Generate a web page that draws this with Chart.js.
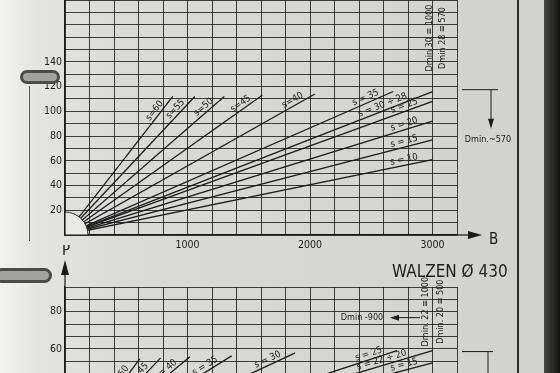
<!DOCTYPE html>
<html>
<head>
<meta charset="utf-8">
<script src="https://cdn.jsdelivr.net/npm/chart.js@4.4.1/dist/chart.umd.min.js"></script>
<style>
  html, body { margin: 0; padding: 0; }
  body {
    width: 560px; height: 373px; overflow: hidden; position: relative;
    background: linear-gradient(to right, #f3f3f1 0px, #e4e4e2 35px, #dadad8 120px, #d5d5d3 380px, #d1d1cf 540px);
  }
  #topChart { position: absolute; left: 0; top: 0; }
  #bottomChart { position: absolute; left: 0; top: 245px; }
  .title {
    position: absolute; left: 392px; top: 261px; white-space: nowrap;
    font: 17px 'DejaVu Sans Condensed', 'DejaVu Sans', sans-serif; color: #1c1c1c;
  }
  .edge { position: absolute; left: 517px; top: 0; width: 2px; height: 373px; background: #2c2c2c; }
  .dark { position: absolute; left: 544px; top: 0; width: 16px; height: 373px; background: linear-gradient(to right, #444442, #141414); }
  .fold { position: absolute; left: 29px; top: 86px; width: 1px; height: 155px; background: #5a5a5a; }
  .ring { position: absolute; border: 3px solid #4b4b49; border-radius: 8px; background: #a2a2a0; }
</style>
</head>
<body>
<div class="fold"></div>
<canvas id="topChart" width="560" height="260"></canvas>
<canvas id="bottomChart" width="560" height="245"></canvas>
<div class="title">WALZEN Ø 430</div>
<div class="edge"></div>
<div class="dark"></div>
<div class="ring" style="left:20px; top:70px; width:34px; height:8px;"></div>
<div class="ring" style="left:-6px; top:268px; width:52px; height:9px;"></div>
<script>
const FONT = "'DejaVu Sans Condensed', 'DejaVu Sans', sans-serif";
const INK = '#1b1b1b';
const GRID = 'rgba(20,20,20,0.8)';

// upper diagram
const bTicks = [1000, 2000, 3000];
const pTicks = [20, 40, 60, 80, 100, 120, 140];
const upperLabels = ['s=60', 's=55', 's=50', 's=45', 's=40', 's = 35', 's = 30 ÷ 28', 's = 25', 's = 20', 's = 15', 's = 10'];
const upperEndB = [880, 1060, 1300, 1610, 2040, 2680, 3000, 3000, 3000, 3000, 3000];
const upperEndP = [112, 112, 112, 113, 114, 116, 116, 108, 92, 77, 61];

// lower diagram (WALZEN Ø 430)
const lowerPTicks = [60, 80];
const lowerLabels = ['s = 50', 's = 45', 's = 40', 's = 35', 's = 30', 's = 25', 's = 22 ÷ 20', 's = 15'];
const lowerEndB = [610, 780, 1020, 1360, 1880, 2710, 3000, 3000];
const lowerEndP = [54.6, 55.1, 55.7, 56.2, 57.8, 59, 59, 52.4];

function fan(labels, endB, endP) {
  return labels.map((label, i) => ({
    label: label,
    data: [{ x: 0, y: 0 }, { x: endB[i], y: endP[i] }],
    borderColor: INK,
    borderWidth: 1.3,
    pointRadius: 0,
    tension: 0,
    fill: false
  }));
}

function tri(ctx, x1, y1, x2, y2, x3, y3) {
  ctx.beginPath(); ctx.moveTo(x1, y1); ctx.lineTo(x2, y2); ctx.lineTo(x3, y3); ctx.closePath(); ctx.fill();
}

function vtext(ctx, text, x, y) {
  ctx.save();
  ctx.translate(x, y);
  ctx.rotate(-Math.PI / 2);
  ctx.textAlign = 'center';
  ctx.textBaseline = 'middle';
  ctx.fillText(text, 0, 0);
  ctx.restore();
}

// white quarter circle at the origin + the "s = .." labels along each line
const lineLabels = {
  id: 'lineLabels',
  afterDatasetsDraw(chart) {
    const ctx = chart.ctx;
    const xs = chart.scales.x, ys = chart.scales.y;
    const ox = xs.getPixelForValue(0), oy = ys.getPixelForValue(0);
    const r = 23;
    ctx.save();
    ctx.beginPath(); ctx.moveTo(ox, oy); ctx.arc(ox, oy, r, -Math.PI / 2, 0); ctx.closePath();
    ctx.fillStyle = '#e8e8e6'; ctx.fill();
    ctx.strokeStyle = INK; ctx.lineWidth = 0.9;
    ctx.beginPath(); ctx.arc(ox, oy, r, -Math.PI / 2, 0); ctx.stroke();
    ctx.lineWidth = 1.2;
    ctx.beginPath(); ctx.moveTo(ox, oy - r); ctx.lineTo(ox, oy); ctx.lineTo(ox + r, oy); ctx.stroke();

    ctx.font = '9.5px ' + FONT;
    ctx.fillStyle = INK;
    ctx.textAlign = 'center';
    ctx.textBaseline = 'middle';
    chart.data.datasets.forEach((ds, i) => {
      const pts = chart.getDatasetMeta(i).data;
      const a = pts[0], b = pts[1];
      const ang = Math.atan2(b.y - a.y, b.x - a.x);
      const w = ctx.measureText(ds.label).width;
      const cx = b.x - w * Math.cos(ang) + 5.5 * Math.sin(ang);
      const cy = b.y - w * Math.sin(ang) - 5.5 * Math.cos(ang);
      ctx.save();
      ctx.translate(cx, cy);
      ctx.rotate(ang);
      ctx.fillText(ds.label, 0, 0);
      ctx.restore();
    });
    ctx.restore();
  }
};

const upperDeco = {
  id: 'upperDeco',
  afterDraw(chart) {
    const ctx = chart.ctx, ca = chart.chartArea, ys = chart.scales.y;
    ctx.save();
    ctx.strokeStyle = INK; ctx.fillStyle = INK; ctx.lineWidth = 1.2;
    // B axis arrow
    ctx.beginPath(); ctx.moveTo(ca.right, ca.bottom); ctx.lineTo(ca.right + 13, ca.bottom); ctx.stroke();
    tri(ctx, ca.right + 25, ca.bottom, ca.right + 11, ca.bottom - 4, ca.right + 11, ca.bottom + 4);
    ctx.font = '15px ' + FONT;
    ctx.textAlign = 'left'; ctx.textBaseline = 'middle';
    ctx.fillText('B', ca.right + 32, ca.bottom + 5);
    // notes
    ctx.font = '9px ' + FONT;
    vtext(ctx, 'Dmin 30 ≡ 1000', 430, 38);
    vtext(ctx, 'Dmin 28 ≡ 570', 443, 38);
    const yTop = ys.getPixelForValue(117.5);
    ctx.lineWidth = 1;
    ctx.beginPath(); ctx.moveTo(ca.right + 5, yTop); ctx.lineTo(ca.right + 41, yTop); ctx.stroke();
    ctx.beginPath(); ctx.moveTo(ca.right + 34, yTop); ctx.lineTo(ca.right + 34, yTop + 32); ctx.stroke();
    tri(ctx, ca.right + 34, yTop + 39, ca.right + 31, yTop + 29, ca.right + 37, yTop + 29);
    ctx.textAlign = 'center';
    ctx.fillText('Dmin.~570', ca.right + 31, yTop + 50);
    ctx.restore();
  }
};

const lowerDeco = {
  id: 'lowerDeco',
  afterDraw(chart) {
    const ctx = chart.ctx, ca = chart.chartArea, ys = chart.scales.y;
    ctx.save();
    ctx.strokeStyle = INK; ctx.fillStyle = INK; ctx.lineWidth = 1.2;
    // P axis arrow
    ctx.beginPath(); ctx.moveTo(ca.left, ca.top); ctx.lineTo(ca.left, ca.top - 13); ctx.stroke();
    tri(ctx, ca.left, ca.top - 27, ca.left - 4, ca.top - 12, ca.left + 4, ca.top - 12);
    ctx.font = '15px ' + FONT;
    ctx.textAlign = 'center'; ctx.textBaseline = 'middle';
    ctx.fillText('P', ca.left + 1, ca.top - 36);
    // notes
    ctx.font = '9px ' + FONT;
    const yNote = ys.getPixelForValue(76.8);
    ctx.fillText('Dmin -900', 362, yNote);
    ctx.lineWidth = 1;
    ctx.beginPath(); ctx.moveTo(420, yNote); ctx.lineTo(398, yNote); ctx.stroke();
    tri(ctx, 390, yNote, 399, yNote - 3, 399, yNote + 3);
    vtext(ctx, 'Dmin. 22 ≡ 1000', 426, yNote - 6);
    vtext(ctx, 'Dmin. 20 ≡ 500', 441, yNote - 6);
    const yTop = ys.getPixelForValue(58.5);
    ctx.beginPath(); ctx.moveTo(ca.right + 5, yTop); ctx.lineTo(ca.right + 36, yTop); ctx.stroke();
    ctx.beginPath(); ctx.moveTo(ca.right + 31, yTop); ctx.lineTo(ca.right + 31, yTop + 30); ctx.stroke();
    ctx.restore();
  }
};

function xScale(height) {
  return {
    type: 'linear', min: 0, max: 3200,
    ticks: {
      stepSize: 200, autoSkip: false, maxRotation: 0, padding: 4, color: INK,
      font: { family: FONT, size: 10.5 },
      callback: v => bTicks.includes(v) ? String(v) : ''
    },
    grid: { color: GRID, lineWidth: 1, drawTicks: false },
    border: { color: INK, width: 1.2 },
    afterFit: s => { s.height = height; s.paddingLeft = 0; s.paddingRight = 0; }
  };
}

function yAxisFit(s) { s.width = 65; s.paddingTop = 0; s.paddingBottom = 0; }

new Chart(document.getElementById('topChart').getContext('2d'), {
  type: 'line',
  data: { datasets: fan(upperLabels, upperEndB, upperEndP) },
  options: {
    responsive: false,
    animation: false,
    layout: { padding: { left: 0, right: 103, top: 0, bottom: 0 } },
    plugins: { legend: { display: false }, tooltip: { enabled: false } },
    scales: {
      x: xScale(25),
      y: {
        min: 0, max: 190,
        ticks: {
          stepSize: 10, autoSkip: false, padding: 3, color: INK,
          font: { family: FONT, size: 10.5 },
          callback: v => pTicks.includes(v) ? String(v) : ''
        },
        grid: { color: GRID, lineWidth: 1, drawTicks: false },
        border: { color: INK, width: 1.2 },
        afterFit: yAxisFit
      }
    }
  },
  plugins: [lineLabels, upperDeco]
});

new Chart(document.getElementById('bottomChart').getContext('2d'), {
  type: 'line',
  data: { datasets: fan(lowerLabels, lowerEndB, lowerEndP) },
  options: {
    responsive: false,
    animation: false,
    layout: { padding: { left: 0, right: 103, top: 42, bottom: 0 } },
    plugins: { legend: { display: false }, tooltip: { enabled: false } },
    scales: {
      x: xScale(30),
      y: {
        min: 0, max: 280 / 3,
        afterBuildTicks: s => {
          s.ticks = [];
          for (let k = 0; k <= 14; k++) s.ticks.push({ value: k * 20 / 3 });
        },
        ticks: {
          autoSkip: false, padding: 3, color: INK,
          font: { family: FONT, size: 10.5 },
          callback: v => {
            const t = lowerPTicks.find(p => Math.abs(p - v) < 0.01);
            return t === undefined ? '' : String(t);
          }
        },
        grid: { color: GRID, lineWidth: 1, drawTicks: false },
        border: { color: INK, width: 1.2 },
        afterFit: yAxisFit
      }
    }
  },
  plugins: [lineLabels, lowerDeco]
});
</script>
</body>
</html>
